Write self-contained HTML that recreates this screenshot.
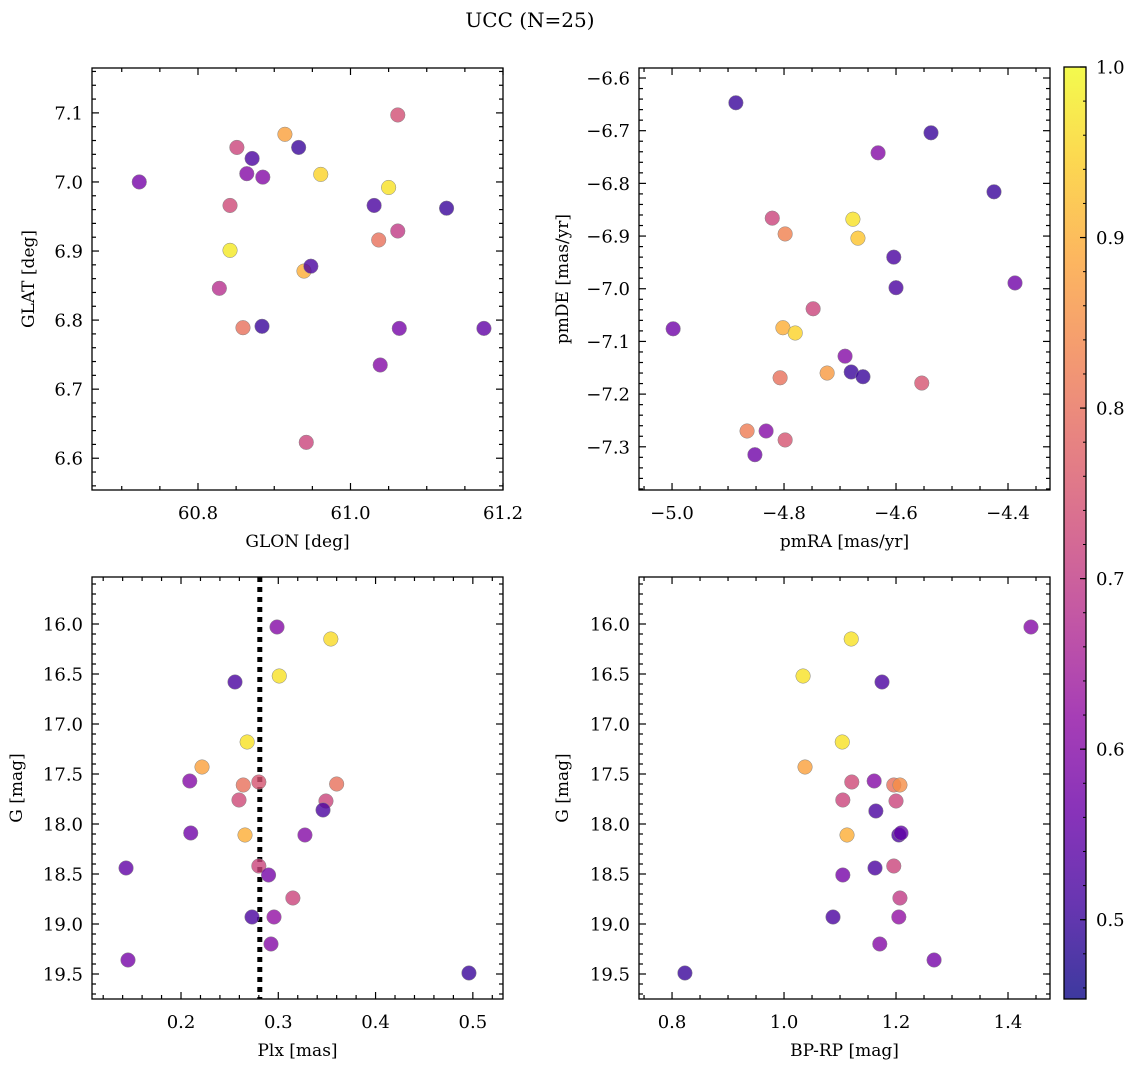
<!DOCTYPE html>
<html><head><meta charset="utf-8"><style>
html,body{margin:0;padding:0;background:#fff;}
svg{display:block;font-family:"DejaVu Serif","Liberation Serif",serif;}
</style></head><body>
<svg id="fig" width="1136" height="1067" viewBox="0 0 1136 1067" xmlns="http://www.w3.org/2000/svg">
<text x="530" y="27" font-size="20" text-anchor="middle">UCC (N=25)</text>
</svg>
<script>
// ---- data ----
const glon = [60.723,60.851,60.871,60.864,60.885,60.842,60.842,60.828,60.859,60.884,60.914,60.932,60.961,60.939,60.948,60.942,61.062,61.050,61.031,61.037,61.062,61.064,61.039,61.126,61.175];
const glat = [7.000,7.050,7.034,7.012,7.007,6.966,6.901,6.846,6.789,6.791,7.069,7.050,7.011,6.871,6.878,6.623,7.097,6.992,6.966,6.916,6.929,6.788,6.735,6.962,6.788];
const cTL  = [0.58,0.72,0.52,0.60,0.60,0.73,0.98,0.68,0.80,0.50,0.88,0.50,0.95,0.90,0.52,0.72,0.74,0.97,0.52,0.80,0.70,0.58,0.60,0.50,0.55];

const pmra = [-4.886,-4.5375,-4.632,-4.425,-4.821,-4.677,-4.798,-4.668,-4.604,-4.600,-4.3875,-4.998,-4.748,-4.802,-4.780,-4.691,-4.680,-4.659,-4.723,-4.807,-4.554,-4.866,-4.832,-4.798,-4.852];
const pmde = [-6.647,-6.704,-6.742,-6.816,-6.866,-6.868,-6.896,-6.904,-6.940,-6.998,-6.989,-7.076,-7.038,-7.074,-7.084,-7.128,-7.158,-7.167,-7.160,-7.169,-7.179,-7.270,-7.270,-7.287,-7.315];
const cTR  = [0.50,0.50,0.60,0.50,0.72,0.97,0.83,0.93,0.52,0.52,0.57,0.57,0.72,0.90,0.95,0.60,0.50,0.50,0.87,0.80,0.75,0.82,0.60,0.75,0.57];

const plx  = [0.2987,0.354,0.301,0.2555,0.268,0.2216,0.209,0.264,0.280,0.360,0.2596,0.349,0.346,0.210,0.2658,0.3274,0.1435,0.280,0.290,0.315,0.273,0.2956,0.2925,0.1455,0.496];
const gBL  = [16.03,16.15,16.52,16.58,17.18,17.43,17.57,17.61,17.58,17.60,17.76,17.77,17.86,18.09,18.11,18.11,18.44,18.42,18.51,18.74,18.93,18.93,19.20,19.36,19.49];
const cBL  = [0.60,0.96,0.97,0.52,0.97,0.88,0.60,0.80,0.75,0.80,0.73,0.72,0.52,0.57,0.90,0.60,0.55,0.72,0.58,0.72,0.52,0.62,0.60,0.58,0.50];
const plxRef = 0.281;

const bprp = [1.441,1.120,1.034,1.175,1.104,1.0375,1.121,1.161,1.196,1.207,1.105,1.200,1.164,1.1125,1.205,1.209,1.196,1.105,1.1625,1.207,1.205,1.0875,1.171,1.268,0.823];
const gBR  = [16.03,16.15,16.52,16.58,17.18,17.43,17.58,17.57,17.61,17.61,17.76,17.77,17.87,18.11,18.11,18.09,18.42,18.51,18.44,18.74,18.93,18.93,19.20,19.36,19.49];
const cBR  = [0.60,0.97,0.97,0.52,0.97,0.88,0.73,0.60,0.80,0.85,0.72,0.72,0.52,0.90,0.52,0.55,0.72,0.58,0.52,0.70,0.62,0.52,0.60,0.58,0.50];

const cmin = 0.4535, cmax = 1.0;
const cbTicks = ["0.5","0.6","0.7","0.8","0.9","1.0"];

// ---- helpers ----
const NS = "http://www.w3.org/2000/svg";
const svg = document.getElementById('fig');
function mk(tag, attrs, parent){ const e=document.createElementNS(NS,tag); for(const k in attrs) e.setAttribute(k,attrs[k]); (parent||svg).appendChild(e); return e; }
const stops = ["#0d0887","#41049d","#6a00a8","#8f0da4","#b12a90","#cc4778","#e16462","#f2844b","#fca636","#fcce25","#f0f921"];
function hex(h){return [parseInt(h.slice(1,3),16),parseInt(h.slice(3,5),16),parseInt(h.slice(5,7),16)];}
function plasma(t){ t=Math.max(0,Math.min(1,t)); const p=t*10, i=Math.min(9,Math.floor(p)), f=p-i; const a=hex(stops[i]), b=hex(stops[i+1]); return `rgb(${a.map((v,k)=>Math.round(v+(b[k]-v)*f)).join(',')})`; }
function cmap(c){ return plasma((c-cmin)/(cmax-cmin)); }

function panel(o){
  const g = mk('g',{});
  
  
  const sx = v => o.x0 + (v-o.xmin)/(o.xmax-o.xmin)*(o.x1-o.x0);
  const sy = v => o.y0 + (o.ymax-v)/(o.ymax-o.ymin)*(o.y1-o.y0);
  const syy = o.yinv ? (v => o.y0 + (v-o.ymin)/(o.ymax-o.ymin)*(o.y1-o.y0)) : sy;
  const eps=1e-9;
  for(let v=Math.ceil(o.xmin/o.xminor-eps)*o.xminor; v<=o.xmax+eps; v+=o.xminor){
    const px=sx(v); const major=Math.abs(v/o.xmajor-Math.round(v/o.xmajor))<1e-6; const L=major?7:4;
    mk('line',{x1:px,x2:px,y1:o.y1,y2:o.y1-L,stroke:'#000','stroke-width':1.2},g);
    mk('line',{x1:px,x2:px,y1:o.y0,y2:o.y0+L,stroke:'#000','stroke-width':1.2},g);
    if(major){ const t=mk('text',{x:px,y:o.y1+29,'font-size':18,'text-anchor':'middle'},g); t.textContent=o.xfmt(v);
        }
  }
  for(let v=Math.ceil(o.ymin/o.yminor-eps)*o.yminor; v<=o.ymax+eps; v+=o.yminor){
    const py=syy(v); const major=Math.abs(v/o.ymajor-Math.round(v/o.ymajor))<1e-6; const L=major?7:4;
    mk('line',{x1:o.x0,x2:o.x0+L,y1:py,y2:py,stroke:'#000','stroke-width':1.2},g);
    mk('line',{x1:o.x1,x2:o.x1-L,y1:py,y2:py,stroke:'#000','stroke-width':1.2},g);
    if(major){ const t=mk('text',{x:o.x0-9,y:py+6.5,'font-size':18,'text-anchor':'end'},g); t.textContent=o.yfmt(v);
        }
  }
  if(o.vline!==undefined){
    const l=mk('line',{x1:sx(o.vline),x2:sx(o.vline),y1:o.y0,y2:o.y1,stroke:'#000','stroke-width':5,'stroke-dasharray':'5,5'},g);
     
  }
  for(let i=0;i<o.xs.length;i++){
    const c=mk('circle',{cx:sx(o.xs[i]),cy:syy(o.ys[i]),r:7.3,fill:cmap(o.cs[i]),'fill-opacity':0.8,stroke:'#888','stroke-width':0.5},g);
     
  }
  const fr=mk('rect',{x:o.x0,y:o.y0,width:o.x1-o.x0,height:o.y1-o.y0,fill:'none',stroke:'#000','stroke-width':1.3},g);
   
  const xl=mk('text',{x:(o.x0+o.x1)/2,y:o.y1+57,'font-size':17,'text-anchor':'middle'},g); xl.textContent=o.xlabel;
   
  const ylx=o.ylx, yly=(o.y0+o.y1)/2;
  const yl=mk('text',{x:ylx,y:yly,'font-size':17,'text-anchor':'middle',transform:`rotate(-90 ${ylx} ${yly})`},g); yl.textContent=o.ylabel;
   
}
const f1=v=>v.toFixed(1), fm1=v=>(v<0?'\u2212':'')+Math.abs(v).toFixed(1);

panel({name:'glon-glat-panel',x0:92,x1:503,y0:68,y1:490,xmin:60.661,xmax:61.2,ymin:6.554,ymax:7.165,
  xmajor:0.2,xminor:0.05,ymajor:0.1,yminor:0.02,xfmt:f1,yfmt:f1,xs:glon,ys:glat,cs:cTL,xlabel:'GLON [deg]',ylabel:'GLAT [deg]',ylx:34});
panel({name:'pm-panel',x0:639,x1:1050,y0:68,y1:490,xmin:-5.059,xmax:-4.325,ymin:-7.382,ymax:-6.581,
  xmajor:0.2,xminor:0.05,ymajor:0.1,yminor:0.02,xfmt:fm1,yfmt:fm1,xs:pmra,ys:pmde,cs:cTR,xlabel:'pmRA [mas/yr]',ylabel:'pmDE [mas/yr]',ylx:568});
panel({name:'plx-g-panel',x0:92,x1:503,y0:577,y1:999,xmin:0.1085,xmax:0.531,ymin:15.53,ymax:19.75,yinv:true,
  xmajor:0.1,xminor:0.02,ymajor:0.5,yminor:0.1,xfmt:f1,yfmt:f1,xs:plx,ys:gBL,cs:cBL,vline:plxRef,xlabel:'Plx [mas]',ylabel:'G [mag]',ylx:22});
panel({name:'cmd-panel',x0:639,x1:1050,y0:577,y1:999,xmin:0.741,xmax:1.475,ymin:15.53,ymax:19.75,yinv:true,
  xmajor:0.2,xminor:0.05,ymajor:0.5,yminor:0.1,xfmt:f1,yfmt:f1,xs:bprp,ys:gBR,cs:cBR,xlabel:'BP-RP [mag]',ylabel:'G [mag]',ylx:568});

// colorbar
const cb = mk('g',{});


const cbx0=1064, cbx1=1086, cby0=67, cby1=999;
const grad=mk('linearGradient',{id:'cbg',x1:0,y1:1,x2:0,y2:0},mk('defs',{},cb));
for(let i=0;i<=20;i++){ mk('stop',{offset:i/20,'stop-color':plasma(i/20),'stop-opacity':0.8},grad); }
mk('rect',{x:cbx0,y:cby0,width:cbx1-cbx0,height:cby1-cby0,fill:'url(#cbg)',stroke:'#000','stroke-width':1.3},cb);
const cy = v => cby1-(v-cmin)/(cmax-cmin)*(cby1-cby0);
for(let k=0;k<cbTicks.length;k++){
  const v=parseFloat(cbTicks[k]); const py=cy(v);
  mk('line',{x1:cbx1,x2:cbx1-6,y1:py,y2:py,stroke:'#000','stroke-width':1.2},cb);
  const t=mk('text',{x:cbx1+10,y:py+6.5,'font-size':18},cb); t.textContent=cbTicks[k];
   
}
for(let v=0.46; v<=1.0001; v+=0.02){ const py=cy(v); mk('line',{x1:cbx1,x2:cbx1-3,y1:py,y2:py,stroke:'#000','stroke-width':1},cb); }
</script>
</body></html>
